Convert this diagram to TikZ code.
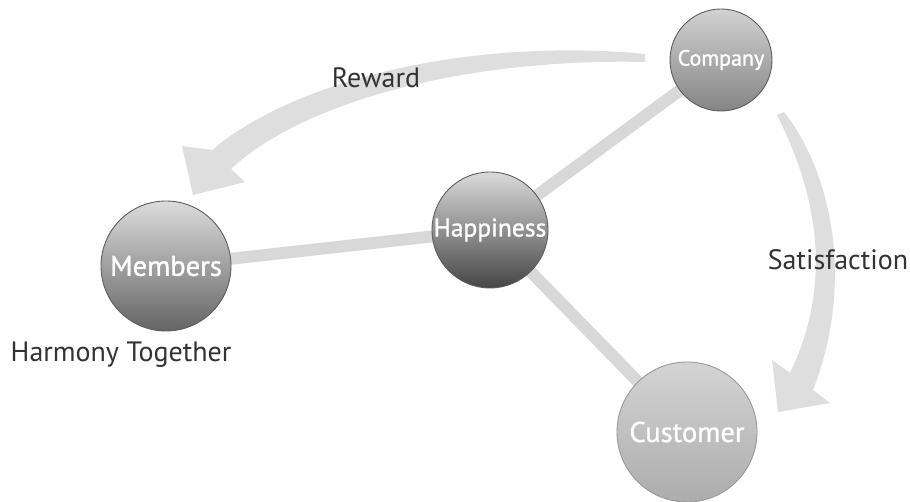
\documentclass[tikz,border=0pt]{standalone}
\usepackage{fontspec}
\setmainfont{PT Sans}
\newfontfamily\ballfont{PT Sans}[FakeBold=1.2]
\usetikzlibrary{shadings}
\definecolor{arrowgray}{HTML}{DEDEDE}
\definecolor{bargray}{HTML}{D8D8D8}
\definecolor{rimgray}{HTML}{5E5E5E}
\definecolor{labelgray}{HTML}{333333}
\tikzset{
  ball/.style={circle, draw=rimgray, line width=0.9pt, minimum size=#1, inner sep=0pt, text=white},
  bar/.style={draw=bargray, line width=12pt},
  bigarrow/.style={fill=arrowgray, draw=none},
  lbl/.style={text=labelgray, font=\fontsize{28}{32}\selectfont, inner sep=0pt}
}
\begin{document}
\begin{tikzpicture}[x=1pt,y=-1pt]
\useasboundingbox[fill=white] (0,0) rectangle (910,502);
% curved arrows
\path[bigarrow] (645,54) .. controls (480,38) and (300,76) .. (212,150)
  -- (182,146) -- (193,195) -- (245,182) -- (231,169)
  .. controls (305,100) and (470,58) .. (645,62) -- cycle;
\path[bigarrow] (784,112) .. controls (830,170) and (856,280) .. (813,390)
  -- (830,403) -- (778,412) -- (772,360) -- (790,373)
  .. controls (835,280) and (815,190) .. (777,115) -- cycle;
% positions
\coordinate (pc) at (721,60);
\coordinate (ph) at (490,230);
\coordinate (pm) at (166,266);
\coordinate (pu) at (687,432);
% bars
\draw[bar] (pm) -- (ph);
\draw[bar] (ph) -- (pc);
\draw[bar] (ph) -- (pu);
% balls
\node[ball=102, top color={rgb,255:red,210;green,210;blue,210}, middle color={rgb,255:red,172;green,172;blue,172}, bottom color={rgb,255:red,132;green,132;blue,132}, font=\ballfont\fontsize{22}{26}\selectfont] (company) at (pc) {Company};
\node[ball=116, top color={rgb,255:red,218;green,218;blue,218}, middle color={rgb,255:red,140;green,140;blue,140}, bottom color={rgb,255:red,70;green,70;blue,70}, font=\ballfont\fontsize{25.5}{29}\selectfont] (happy) at (ph) {Happiness};
\node[ball=130, top color={rgb,255:red,220;green,220;blue,220}, middle color={rgb,255:red,158;green,158;blue,158}, bottom color={rgb,255:red,100;green,100;blue,100}, font=\ballfont\fontsize{28.5}{32}\selectfont] (members) at (pm) {Members};
\node[ball=140, draw=gray!80, top color={rgb,255:red,212;green,212;blue,212}, middle color={rgb,255:red,192;green,192;blue,192}, bottom color={rgb,255:red,172;green,172;blue,172}, font=\ballfont\fontsize{28.5}{32}\selectfont] (customer) at (pu) {Customer};
% labels
\node[lbl] (reward) at (376,78) {Reward};
\node[lbl] (satis) at (838,260) {Satisfaction};
\node[lbl] (harmony) at (121,355) {Harmony Together};
\end{tikzpicture}
\end{document}
